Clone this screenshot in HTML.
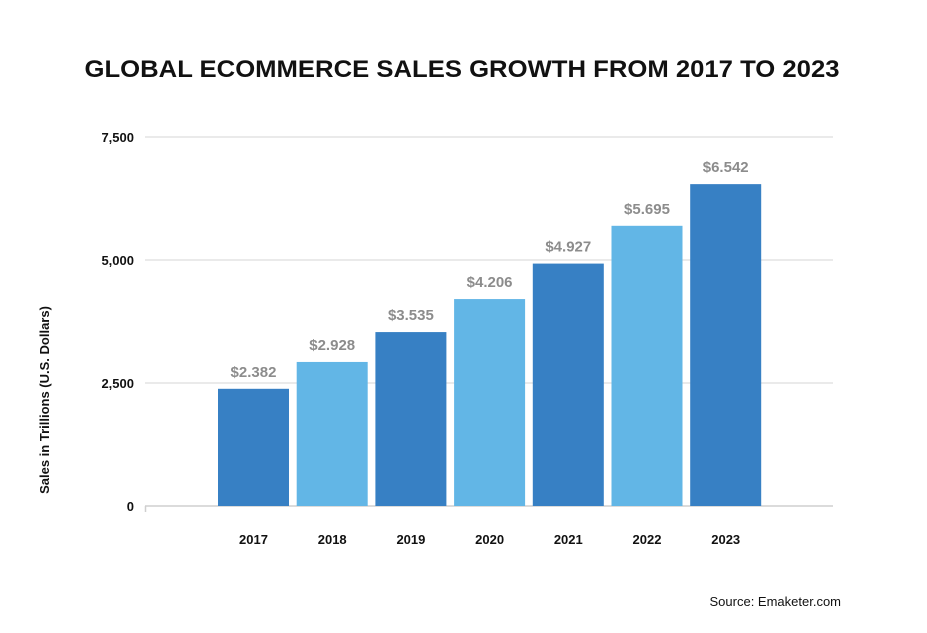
<!DOCTYPE html>
<html><head><meta charset="utf-8"><style>
body{margin:0;background:#fff;}
svg text{font-family:"Liberation Sans",sans-serif;font-weight:bold;}
</style></head><body>
<svg width="927" height="628" viewBox="0 0 927 628">
<text x="462" y="77" text-anchor="middle" font-size="24" fill="#111" textLength="755" lengthAdjust="spacingAndGlyphs">GLOBAL ECOMMERCE SALES GROWTH FROM 2017 TO 2023</text>
<g id="grid"></g>
<g id="bars"></g>
<text transform="translate(49,400) rotate(-90)" text-anchor="middle" font-size="13" fill="#111">Sales in Trillions (U.S. Dollars)</text>
<text x="841" y="606" text-anchor="end" font-size="13" font-weight="normal" style="font-weight:normal" fill="#111">Source: Emaketer.com</text>
</svg>
<script>
const categories=["2017","2018","2019","2020","2021","2022","2023"];
const values=[2382,2928,3535,4206,4927,5695,6542];
const valueLabels=["$2.382","$2.928","$3.535","$4.206","$4.927","$5.695","$6.542"];
const yTicks=[0,2500,5000,7500];
const yTickLabels=["0","2,500","5,000","7,500"];
const NS="http://www.w3.org/2000/svg";
const y0=506,yTop=137,yMax=7500;
function y(v){return y0-(v/yMax)*(y0-yTop);}
function x(i){return 218+i*78.7;}
const bw=71;
const grid=document.getElementById('grid'),bars=document.getElementById('bars');
function mk(tag,attrs,parent){const e=document.createElementNS(NS,tag);for(const k in attrs)e.setAttribute(k,attrs[k]);parent.appendChild(e);return e;}
yTicks.forEach((t,i)=>{
 const l=mk('line',{x1:145,x2:833,y1:y(t),y2:y(t),stroke:t===0?'#cfcfcf':'#e3e3e3','stroke-width':1.5},grid);
 
 
 const tx=mk('text',{x:134,y:y(t)+5,'text-anchor':'end','font-size':13,fill:'#111'},grid);
 tx.textContent=yTickLabels[i];
 
 
});
const tk=mk('line',{x1:145.5,x2:145.5,y1:y0,y2:y0+6,stroke:'#cfcfcf','stroke-width':1.5},grid);


values.forEach((v,i)=>{
 const r=mk('rect',{x:x(i),y:y(v),width:bw,height:y0-y(v),fill:i%2?'#62b6e6':'#3780c4'},bars);
 
 
 const vl=mk('text',{x:x(i)+bw/2,y:y(v)-12,'text-anchor':'middle','font-size':15,fill:'#8c8c8c'},bars);
 vl.textContent=valueLabels[i];
 
 
 const cl=mk('text',{x:x(i)+bw/2,y:544,'text-anchor':'middle','font-size':13,fill:'#111'},bars);
 cl.textContent=categories[i];
 
 
});
</script>
</body></html>
